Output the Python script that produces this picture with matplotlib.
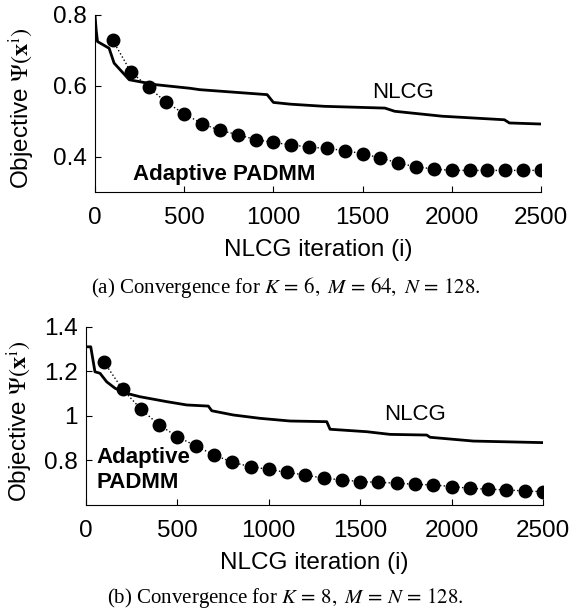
import numpy as np
import matplotlib
matplotlib.use("Agg")
import matplotlib.pyplot as plt

plt.rcParams['font.family'] = ['Liberation Sans', 'DejaVu Sans']
plt.rcParams['mathtext.fontset'] = 'stix'

# --- panel (a): K=6, M=64, N=128 ---
nlcg_a_iter = [0, 6, 14, 79, 107, 192, 343, 532, 588, 965, 1000, 1097, 1285, 1625, 1680,
               1947, 2295, 2323, 2500]
nlcg_a_val = [0.80, 0.76, 0.725, 0.706, 0.664, 0.617, 0.603, 0.593, 0.589, 0.575, 0.553,
              0.548, 0.542, 0.537, 0.528, 0.514, 0.504, 0.495, 0.492]
padmm_a_iter = list(range(100, 2501, 100))
padmm_a_val = [0.728, 0.640, 0.596, 0.553, 0.521, 0.493, 0.474, 0.462, 0.448, 0.440,
               0.433, 0.427, 0.423, 0.417, 0.408, 0.396, 0.382, 0.371, 0.365, 0.361,
               0.361, 0.361, 0.361, 0.361, 0.361]

# --- panel (b): K=8, M=N=128 ---
nlcg_b_iter = [0, 26, 49, 77, 113, 159, 223, 295, 441, 551, 669, 688, 806, 952, 1116,
               1317, 1335, 1536, 1663, 1864, 1882, 2119, 2500]
nlcg_b_val = [1.310, 1.310, 1.198, 1.191, 1.153, 1.124, 1.101, 1.086, 1.064, 1.049, 1.044,
              1.023, 1.004, 0.989, 0.977, 0.974, 0.940, 0.929, 0.917, 0.914, 0.904,
              0.887, 0.880]
padmm_b_iter = list(range(100, 2501, 100))
padmm_b_val = [1.240, 1.119, 1.031, 0.959, 0.907, 0.865, 0.825, 0.792, 0.772, 0.760,
               0.746, 0.735, 0.720, 0.713, 0.705, 0.702, 0.698, 0.693, 0.690, 0.683,
               0.675, 0.671, 0.668, 0.663, 0.660]

xticks = [0, 500, 1000, 1500, 2000, 2500]
fs = 17.5   # axis text
fa = 16     # in-plot labels

fig = plt.figure(figsize=(5.71, 6.12), dpi=100)
ax1 = fig.add_axes([0.1664, 0.6863, 0.781, 0.2892])
ax2 = fig.add_axes([0.1506, 0.1748, 0.8004, 0.2913])


def style(ax, ylim, yticks, yticklabels, ylab_x):
    ax.set_xlim(0, 2500)
    ax.set_ylim(*ylim)
    ax.set_xticks(xticks)
    ax.set_yticks(yticks)
    ax.set_yticklabels(yticklabels)
    ax.tick_params(direction='in', length=4, labelsize=fs, width=0.8)
    ax.tick_params(axis='x', pad=11)
    ax.tick_params(axis='y', pad=6)
    for s in ['top', 'right']:
        ax.spines[s].set_visible(False)
    ax.set_xlabel('NLCG iteration (i)', fontsize=fs, labelpad=7)
    ax.set_ylabel(r'Objective $\Psi(\mathbf{x}^{\mathrm{i}})$', fontsize=fs)
    ax.yaxis.set_label_coords(ylab_x, 0.47)


ax1.plot(nlcg_a_iter, nlcg_a_val, color='black', lw=2.0)
ax1.plot(padmm_a_iter, padmm_a_val, color='black', ls=':', lw=1.0,
         marker='o', markersize=9)
style(ax1, (0.3, 0.8), [0.4, 0.6, 0.8], ['0.4', '0.6', '0.8'], -0.130)
ax1.text(1728, 0.565, 'NLCG', fontsize=fa, ha='center', va='baseline')
ax1.text(213, 0.334, 'Adaptive PADMM', fontsize=fa, fontweight='bold',
         ha='left', va='baseline')

ax2.plot(nlcg_b_iter, nlcg_b_val, color='black', lw=2.0)
ax2.plot(padmm_b_iter, padmm_b_val, color='black', ls=':', lw=1.0,
         marker='o', markersize=9)
style(ax2, (0.6, 1.4), [0.8, 1.0, 1.2, 1.4], ['0.8', '1', '1.2', '1.4'], -0.112)
ax2.text(1800, 0.982, 'NLCG', fontsize=fa, ha='center', va='baseline')
ax2.text(58, 0.789, 'Adaptive', fontsize=fa, fontweight='bold',
         ha='left', va='baseline')
ax2.text(58, 0.677, 'PADMM', fontsize=fa, fontweight='bold',
         ha='left', va='baseline')

fig.text(0.5, 1 - 287 / 612,
         r'(a) Convergence for $K\,=\,6,\ M\,=\,64,\ N\,=\,128.$',
         fontsize=15, family='Liberation Serif', ha='center', va='center')
fig.text(0.5, 1 - 598 / 612,
         r'(b) Convergence for $K\,=\,8,\ M\,=\,N\,=\,128.$',
         fontsize=15, family='Liberation Serif', ha='center', va='center')

fig.savefig('out.png', dpi=100)
